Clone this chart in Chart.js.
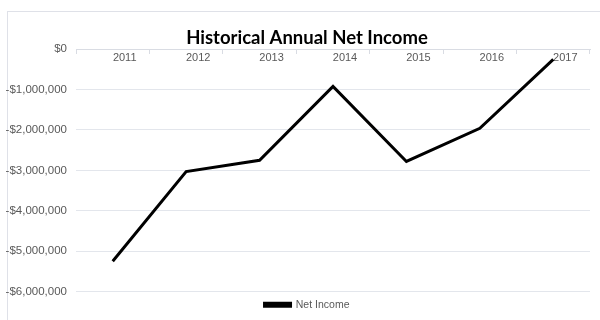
<!DOCTYPE html>
<html>
<head>
<meta charset="utf-8">
<script src="https://cdn.jsdelivr.net/npm/chart.js@4/dist/chart.umd.min.js"></script>
<style>
  html, body { margin: 0; padding: 0; background: #fff; }
  #wrap { position: relative; width: 600px; height: 320px; overflow: hidden; }
  #frame { position: absolute; left: 7px; top: 11px; width: 640px; height: 360px; border: 1px solid #dfe1e8; }
  canvas { position: absolute; left: 0; top: 0; }
</style>
</head>
<body>
<div id="wrap">
  <div id="frame"></div>
  <canvas id="grafico" width="600" height="320"></canvas>
</div>
<script>
// datos
const anios = ["2011", "2012", "2013", "2014", "2015", "2016", "2017"];
const ingresoNeto = [-5250000, -3030000, -2750000, -920000, -2780000, -1960000, -250000];
const marcasY = [0, -1000000, -2000000, -3000000, -4000000, -5000000, -6000000];

const gris = "#595959";

function formatoDolar(v) {
    const s = "$" + Math.abs(v).toLocaleString("en-US");
    return v < 0 ? "-" + s : s;
}

const ctx = document.getElementById("grafico").getContext("2d");
new Chart(ctx, {
    type: 'line',
    data: {
        labels: anios,
        datasets: [{
            label: "Net Income",
            data: ingresoNeto,
            borderColor: "#000",
            backgroundColor: "#000",
            borderWidth: 3,
            pointRadius: 0,
            tension: 0,
            fill: false
        }]
    },
    options: {
        responsive: false,
        animation: false,
        layout: { padding: { left: 24, right: 10, top: 0, bottom: 0 } },
        plugins: {
            title: {
                display: true,
                text: "Historical Annual Net Income",
                color: "#000",
                font: { family: "Lato", size: 18.5, weight: "bold" },
                padding: { top: 27, bottom: 0 }
            },
            legend: {
                position: 'bottom',
                labels: {
                    color: gris,
                    font: { family: "Liberation Sans", size: 10.5 },
                    boxWidth: 26,
                    boxHeight: 3,
                    padding: 8
                }
            },
            tooltip: { enabled: false }
        },
        scales: {
            x: {
                position: { y: 0 },
                offset: true,
                grid: {
                    offset: true,
                    drawOnChartArea: false,
                    drawTicks: true,
                    tickLength: 4,
                    color: "#d9dce3"
                },
                border: { color: "#d9dce3" },
                ticks: {
                    color: gris,
                    font: { family: "Liberation Sans", size: 11 },
                    labelOffset: 12,
                    padding: -2
                }
            },
            y: {
                min: -6000000,
                max: 0,
                afterBuildTicks: (axis) => { axis.ticks = marcasY.map(v => ({ value: v })); },
                afterFit: (axis) => {
                    // eje estrecho, pero las etiquetas pueden salir a la izquierda
                    axis.width = 52;
                    axis._computeLabelArea = () => undefined;
                },
                grid: { color: "#e3e6ec", drawTicks: false },
                border: { display: false },
                ticks: {
                    color: gris,
                    font: { family: "Liberation Sans", size: 11.5 },
                    padding: 9,
                    callback: (v) => formatoDolar(v)
                }
            }
        }
    }
});
</script>
</body>
</html>
